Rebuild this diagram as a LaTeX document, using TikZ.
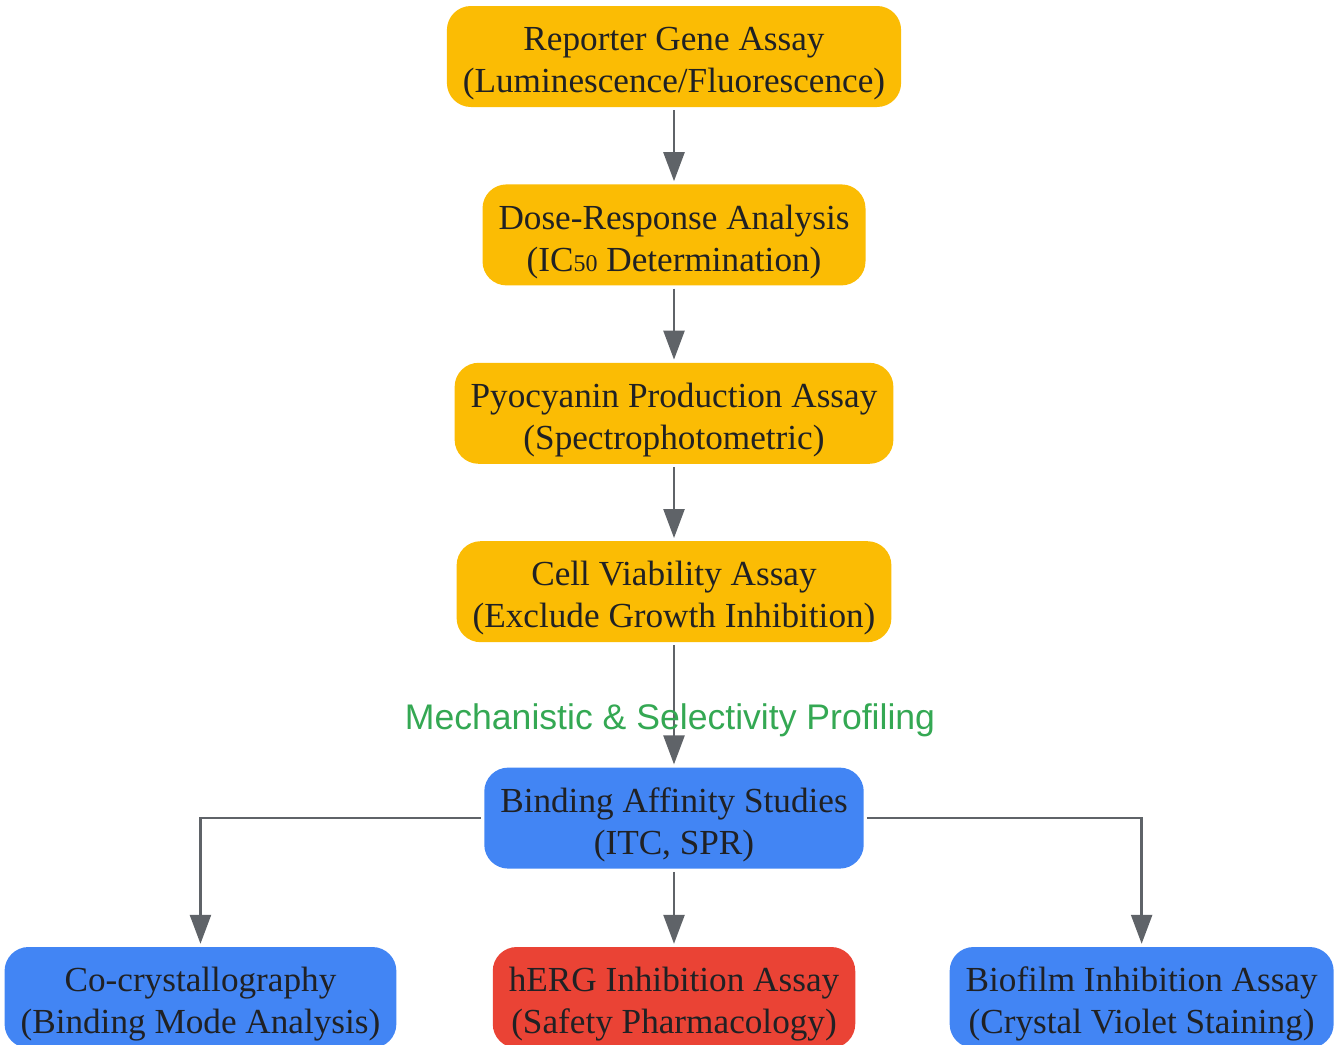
\documentclass[tikz,border=0pt]{standalone}
\usepackage{fontspec}
\setmainfont{Liberation Serif}
\newfontfamily\labelfont{Liberation Sans}
\usetikzlibrary{positioning,arrows.meta}
\definecolor{stageorange}{HTML}{FBBC04}
\definecolor{stageblue}{HTML}{4285F4}
\definecolor{stagered}{HTML}{EA4335}
\definecolor{linkgray}{HTML}{5F6368}
\definecolor{labelgreen}{HTML}{34A853}
\definecolor{textdark}{HTML}{202124}
\newcommand*\boxheight{101pt}
\newcommand*\boxgap   {77pt}
\tikzset{
    stage/.style       = {rectangle, rounded corners=24pt,
                         minimum height=\boxheight, inner xsep=16pt,
                         inner ysep=0pt,
                         align=center, text=textdark,
                         font=\fontsize{35.2}{42}\selectfont},
    orangestage/.style = {stage, fill=stageorange},
    bluestage/.style   = {stage, fill=stageblue},
    redstage/.style    = {stage, fill=stagered},
    link/.style        = {draw=linkgray, line width=2.5pt,
                         shorten <=3pt, shorten >=3pt,
                         -{Triangle[length=29pt,width=21pt]}},
    linklabel/.style   = {text=labelgreen,
                         font=\labelfont\fontsize{35.6}{42}\selectfont},
  }
\newcommand*\sub[1]{{\fontsize{24}{24}\selectfont #1}}
\newcommand*\lift{\rule{0pt}{38pt}}

\begin{document}
\begin{tikzpicture}[x=1pt,y=-1pt]
        \useasboundingbox (0,0) rectangle (1338,1044);

        % Screening chain, top to bottom
        \node[orangestage] (reporter) at (674,56.5)
            {\lift Reporter Gene Assay\\(Luminescence/Fluorescence)};
        \node[orangestage, below=\boxgap of reporter] (dose)
            {\lift Dose-Response Analysis\\(IC\sub{50} Determination)};
        \node[orangestage, below=\boxgap of dose] (pyocyanin)
            {\lift Pyocyanin Production Assay\\(Spectrophotometric)};
        \node[orangestage, below=\boxgap of pyocyanin] (viability)
            {\lift Cell Viability Assay\\(Exclude Growth Inhibition)};

        % Profiling stage
        \node[bluestage, below=125pt of viability] (binding)
            {\lift Binding Affinity Studies\\(ITC, SPR)};

        % Bottom row
        \node[redstage, below=78pt of binding] (herg)
            {\lift hERG Inhibition Assay\\(Safety Pharmacology)};
        \node[bluestage, left=96pt of herg] (cocrystal)
            {\lift Co-crystallography\\(Binding Mode Analysis)};
        \node[bluestage, right=94pt of herg] (biofilm)
            {\lift Biofilm Inhibition Assay\\(Crystal Violet Staining)};

        % Connectors
        \draw[link] (reporter) -- (dose);
        \draw[link] (dose) -- (pyocyanin);
        \draw[link] (pyocyanin) -- (viability);
        \draw[link] (viability) -- node[linklabel, pos=0.62, xshift=-4pt] (profiling)
            {Mechanistic \& Selectivity Profiling} (binding);
        \draw[link] (binding.west) -| (cocrystal.north);
        \draw[link] (binding) -- (herg);
        \draw[link] (binding.east) -| (biofilm.north);
    \end{tikzpicture}
\end{document}
